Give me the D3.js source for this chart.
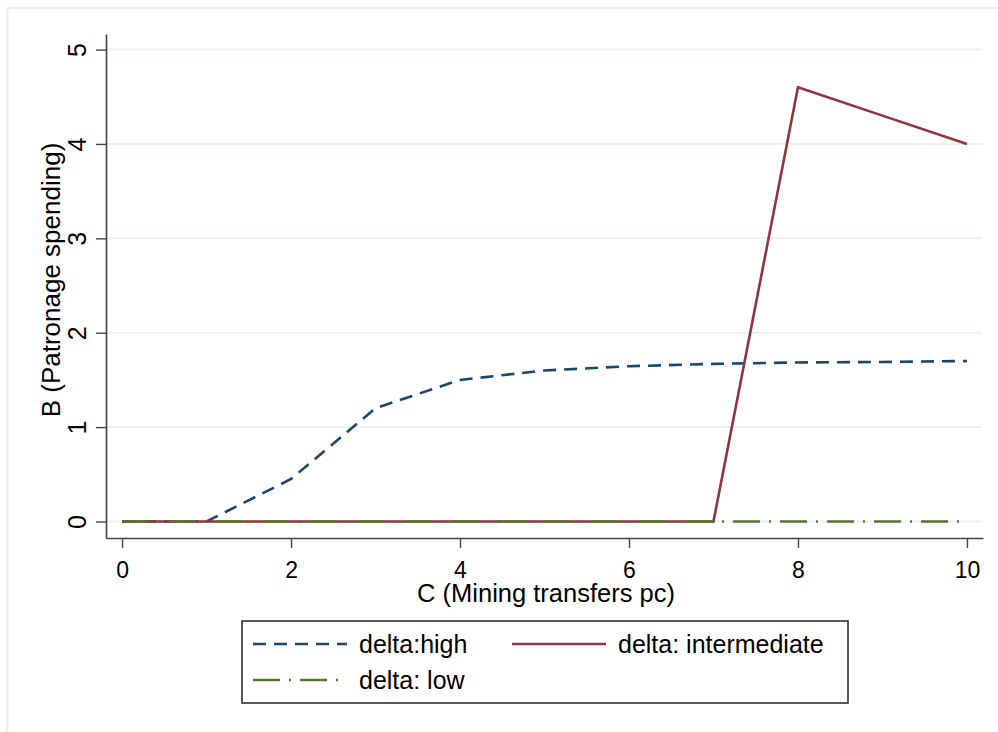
<!DOCTYPE html>
<html>
<head>
<meta charset="utf-8">
<script src="https://cdn.jsdelivr.net/npm/d3@7"></script>
<style>
  body { margin: 0; background: #fff; }
  text { font-family: Arial, "Liberation Sans", sans-serif; fill: #000; }
</style>
</head>
<body>
<svg></svg>
<script>
// data
const xValues = [0, 1, 2, 3, 4, 5, 6, 7, 8, 9, 10];
const highValues = [0, 0, 0.45, 1.2, 1.5, 1.6, 1.645, 1.67, 1.685, 1.69, 1.70];
const intermediateValues = [0, 0, 0, 0, 0, 0, 0, 0, 4.6, 4.3, 4.0];
const lowValues = [0, 0, 0, 0, 0, 0, 0, 0, 0, 0, 0];
const xTicks = [0, 2, 4, 6, 8, 10];
const yTicks = [0, 1, 2, 3, 4, 5];

const series = [
  { name: "delta:high", values: highValues, color: "#1a476f", dash: "13,8" },
  { name: "delta: intermediate", values: intermediateValues, color: "#90353b", dash: null },
  { name: "delta: low", values: lowValues, color: "#55752f", dash: "27,9,2,9" }
];

const width = 998, height = 732;

const svg = d3.select("svg")
  .attr("width", width)
  .attr("height", height);

// outer graph region border
svg.append("rect")
  .attr("x", 7.5).attr("y", 8)
  .attr("width", 1000).attr("height", 740)
  .attr("fill", "none")
  .attr("stroke", "#e6eef1")
  .attr("stroke-width", 2);

const x = d3.scaleLinear().domain([-0.19, 10.19]).range([106, 983]);
const y = d3.scaleLinear().domain([-0.175, 5.165]).range([538, 34]);

// gridlines
svg.append("g")
  .selectAll("line")
  .data(yTicks)
  .enter()
  .append("line")
  .attr("x1", 107).attr("x2", 982)
  .attr("y1", d => y(d)).attr("y2", d => y(d))
  .attr("stroke", "#eaf1f3")
  .attr("stroke-width", 2);

// lines
const line = d3.line()
  .x((d, i) => x(xValues[i]))
  .y(d => y(d));

series.forEach(s => {
  svg.append("path")
    .datum(s.values)
    .attr("fill", "none")
    .attr("stroke", s.color)
    .attr("stroke-width", 2.6)
    .attr("stroke-dasharray", s.dash)
    .attr("d", line);
});

// Y axis
const yAxis = svg.append("g")
  .attr("transform", "translate(106,0)")
  .call(d3.axisLeft(y).tickValues(yTicks).tickFormat(d3.format("d")).tickSize(10).tickSizeOuter(0));
yAxis.select(".domain").attr("stroke", "#444").attr("stroke-width", 1.6);
yAxis.selectAll(".tick line").attr("stroke", "#444").attr("stroke-width", 1.4);
yAxis.selectAll("text")
  .attr("font-size", 25)
  .attr("fill", "#000")
  .attr("x", 0)
  .attr("y", 0)
  .attr("dy", "0")
  .attr("transform", "translate(-20,0) rotate(-90)")
  .style("text-anchor", "middle");

// X axis
const xAxis = svg.append("g")
  .attr("transform", "translate(0,538)")
  .call(d3.axisBottom(x).tickValues(xTicks).tickFormat(d3.format("d")).tickSize(10).tickSizeOuter(0).tickPadding(14));
xAxis.select(".domain").attr("stroke", "#444").attr("stroke-width", 1.6);
xAxis.selectAll(".tick line").attr("stroke", "#444").attr("stroke-width", 1.4);
xAxis.selectAll("text")
  .attr("font-size", 23)
  .attr("fill", "#000");

// axis titles
svg.append("text")
  .attr("x", 546)
  .attr("y", 602)
  .attr("font-size", 25.5)
  .style("text-anchor", "middle")
  .text("C (Mining transfers pc)");

svg.append("text")
  .attr("transform", "rotate(-90)")
  .attr("x", -280)
  .attr("y", 60)
  .attr("font-size", 26)
  .style("text-anchor", "middle")
  .text("B (Patronage spending)");

// legend
const legend = svg.append("g");
legend.append("rect")
  .attr("x", 242).attr("y", 621)
  .attr("width", 606).attr("height", 82)
  .attr("fill", "#fff")
  .attr("stroke", "#222")
  .attr("stroke-width", 1.5);

const legendPos = [
  { lx: 253, ty: 644 },
  { lx: 512, ty: 644 },
  { lx: 253, ty: 680 }
];

series.forEach((s, i) => {
  const p = legendPos[i];
  legend.append("line")
    .attr("x1", p.lx).attr("x2", p.lx + 94)
    .attr("y1", p.ty).attr("y2", p.ty)
    .attr("stroke", s.color)
    .attr("stroke-width", 2.6)
    .attr("stroke-dasharray", s.dash);
  legend.append("text")
    .attr("x", p.lx + 106)
    .attr("y", p.ty)
    .attr("dy", "0.36em")
    .attr("font-size", 25)
    .text(s.name);
});
</script>
</body>
</html>
